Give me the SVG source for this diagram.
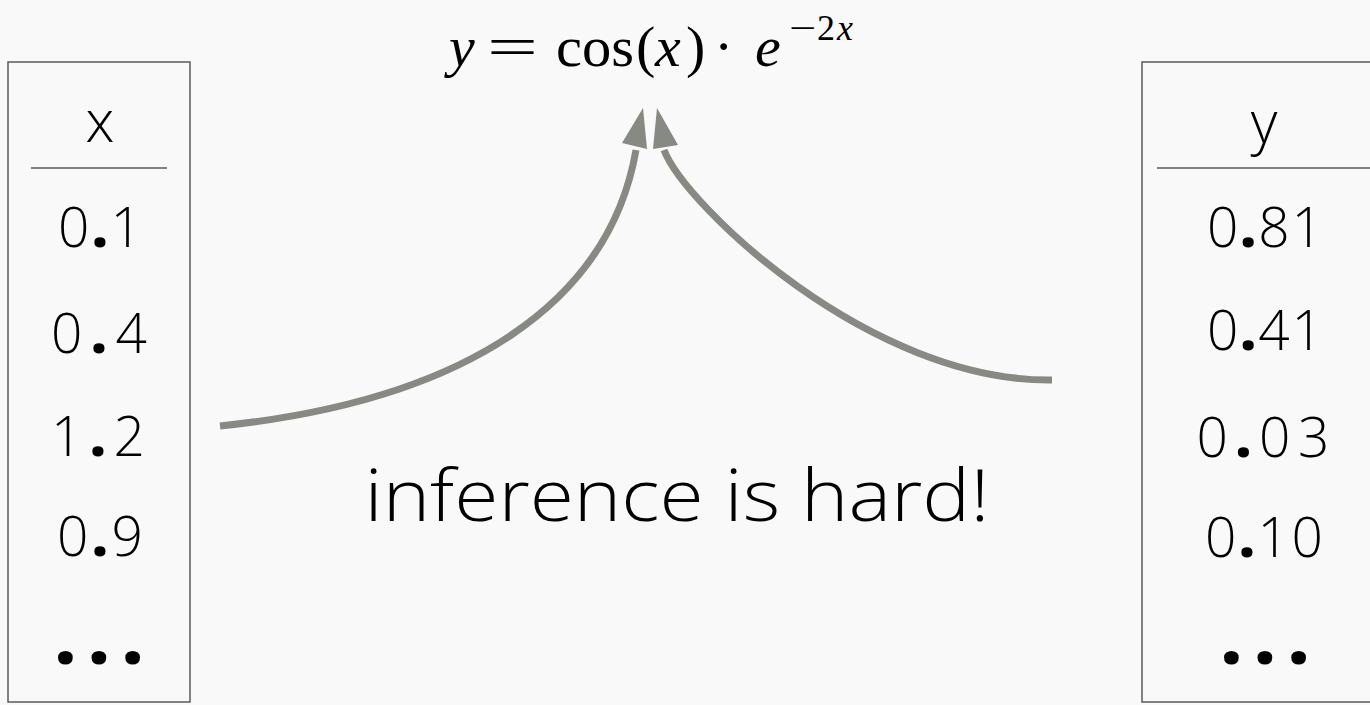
<svg xmlns="http://www.w3.org/2000/svg" width="1370" height="705" viewBox="0 0 1370 705">
<style>
.box{fill:none;stroke:#5a5a5a;stroke-width:1.5}
.rule{stroke:#5a5a5a;stroke-width:1.5}
.hand{font-family:"Open Sans","DejaVu Sans",sans-serif;font-weight:300;fill:#000;text-anchor:middle}
.num{font-size:55px}
.pt{font-weight:800}
.dots{font-family:"Open Sans","DejaVu Sans",sans-serif;font-weight:800;font-size:72px;text-anchor:middle}
.eq{font-family:"Liberation Serif","Times New Roman",serif;fill:#000}
.it{font-style:italic}
.shaft{fill:none;stroke:#878983;stroke-width:7}
.head{fill:#878983}
</style>
<rect x="0" y="0" width="1370" height="705" fill="#f9f9f9"/>

<g id="equation">
<text class="eq it" font-size="58" x="449" y="66">y</text>
<text class="eq" font-size="58" x="487" y="66" textLength="51" lengthAdjust="spacingAndGlyphs">=</text>
<text class="eq" font-size="58" x="556" y="66" textLength="78" lengthAdjust="spacingAndGlyphs">cos</text>
<text class="eq" font-size="58" x="636" y="66">(</text>
<text class="eq it" font-size="58" x="655" y="66">x</text>
<text class="eq" font-size="58" x="686" y="66">)</text>
<text class="eq" font-size="58" x="714" y="66">·</text>
<text class="eq it" font-size="58" x="755" y="66">e</text>
<text class="eq" font-size="36" x="789" y="40" textLength="27" lengthAdjust="spacingAndGlyphs">−</text>
<text class="eq" font-size="36" x="817" y="40">2</text>
<text class="eq it" font-size="36" x="837" y="40">x</text>
</g>

<g id="x-table">
<rect class="box" x="8" y="62" width="182" height="640"/>
<line class="rule" x1="31" y1="168" x2="167" y2="168"/>
<text class="hand" x="100" y="142" font-size="58">x</text>
<text class="hand num" x="100" y="247" textLength="84" lengthAdjust="spacing">0<tspan class="pt">.</tspan>1</text>
<text class="hand num" x="99" y="353" textLength="96" lengthAdjust="spacing">0<tspan class="pt">.</tspan>4</text>
<text class="hand num" x="98" y="456" textLength="94" lengthAdjust="spacing">1<tspan class="pt">.</tspan>2</text>
<text class="hand num" x="100" y="556" textLength="86" lengthAdjust="spacing">0<tspan class="pt">.</tspan>9</text>
<text class="dots" x="99" y="664" textLength="88" lengthAdjust="spacing">...</text>
</g>

<g id="y-table">
<rect class="box" x="1142" y="62" width="240" height="640"/>
<line class="rule" x1="1157" y1="168" x2="1370" y2="168"/>
<text class="hand" x="1264" y="143" font-size="58">y</text>
<text class="hand num" x="1265" y="247" textLength="116" lengthAdjust="spacing">0<tspan class="pt">.</tspan>81</text>
<text class="hand num" x="1265" y="350" textLength="116" lengthAdjust="spacing">0<tspan class="pt">.</tspan>41</text>
<text class="hand num" x="1263" y="457" textLength="133" lengthAdjust="spacing">0<tspan class="pt">.</tspan>03</text>
<text class="hand num" x="1264" y="557" textLength="118" lengthAdjust="spacing">0<tspan class="pt">.</tspan>10</text>
<text class="dots" x="1265" y="664" textLength="88" lengthAdjust="spacing">...</text>
</g>

<g id="caption">
<text class="hand" x="677" y="521" font-size="72" textLength="625" lengthAdjust="spacingAndGlyphs">inference is hard!</text>
</g>

<g id="connectors">
<path class="shaft" d="M220,426 C470,400 610,300 636,150"/>
<polygon class="head" points="643,108 622,143 647,149"/>
<path class="shaft" d="M1052,380 C870,382 685,205 664,150"/>
<polygon class="head" points="657,108 653,149 678,145"/>
</g>
</svg>
